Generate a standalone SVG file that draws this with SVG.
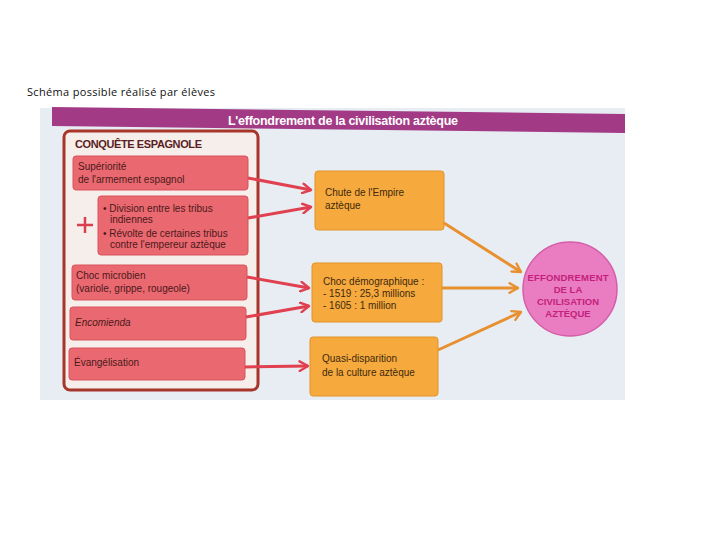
<svg xmlns="http://www.w3.org/2000/svg" width="720" height="540" viewBox="0 0 720 540">
<style>
  .cap{font-family:"Open Sans","Liberation Sans",sans-serif;font-size:11px;fill:#111}
  .t{font-family:"Liberation Sans","DejaVu Sans",sans-serif;font-size:10px;fill:#4a1a1a}
  .to{font-family:"Liberation Sans","DejaVu Sans",sans-serif;font-size:10px;fill:#3e2a10}
  .red{fill:#ea6870;stroke:#d9525c;stroke-width:1}
  .org{fill:#f6a93c;stroke:#e39328;stroke-width:1}
  .ra{stroke:#e0404f;stroke-width:3;fill:none;marker-end:url(#rh)}
  .oa{stroke:#e8902f;stroke-width:3;fill:none;marker-end:url(#oh)}
  .ct{font-family:"Liberation Sans","DejaVu Sans",sans-serif;font-size:9.5px;font-weight:bold;fill:#c41f7c;text-anchor:middle}
</style>
<defs>
  <marker id="rh" viewBox="0 0 10 10" refX="8" refY="5" markerWidth="4" markerHeight="4" orient="auto" markerUnits="strokeWidth">
    <path d="M1,1 L8,5 L1,9" fill="none" stroke="#e0404f" stroke-width="2" stroke-linecap="round" stroke-linejoin="round"/>
  </marker>
  <marker id="oh" viewBox="0 0 10 10" refX="8" refY="5" markerWidth="4" markerHeight="4" orient="auto" markerUnits="strokeWidth">
    <path d="M1,1 L8,5 L1,9" fill="none" stroke="#e8902f" stroke-width="2" stroke-linecap="round" stroke-linejoin="round"/>
  </marker>
</defs>
<rect width="720" height="540" fill="#ffffff"/>
<text class="cap" x="27" y="96" textLength="188">Schéma possible réalisé par élèves</text>

<g id="background">
  <rect x="40" y="108" width="585" height="292" fill="#e7edf2"/>
  <polygon points="52,107 625,114 625,133 52,126" fill="#a33a86"/>
  <text x="228" y="125" textLength="230" font-family="Liberation Sans,DejaVu Sans,sans-serif" font-size="12.5" font-weight="bold" fill="#ffffff">L'effondrement de la civilisation aztèque</text>
</g>

<g id="conquete">
  <rect x="64" y="131" width="194" height="259" rx="6" fill="#f5eeeb" stroke="#a8352a" stroke-width="3"/>
  <text x="75" y="148" textLength="127" font-family="Liberation Sans,DejaVu Sans,sans-serif" font-size="11" font-weight="bold" fill="#5a1e1e">CONQUÊTE ESPAGNOLE</text>
  <path d="M77,225 H93 M85,217 V233" stroke="#d9404c" stroke-width="2.5" fill="none"/>
</g>

<g id="n1">
  <rect class="red" x="73" y="156" width="175" height="34" rx="3"/>
  <text class="t" x="78" y="170">Supériorité</text>
  <text class="t" x="78" y="183">de l'armement espagnol</text>
</g>
<g id="n2">
  <rect class="red" x="98" y="196" width="150" height="59" rx="3"/>
  <text class="t" x="103" y="212">• Division entre les tribus</text>
  <text class="t" x="110" y="223">indiennes</text>
  <text class="t" x="103" y="237">• Révolte de certaines tribus</text>
  <text class="t" x="110" y="248">contre l'empereur aztèque</text>
</g>
<g id="n3">
  <rect class="red" x="72" y="265" width="175" height="35" rx="3"/>
  <text class="t" x="76" y="279">Choc microbien</text>
  <text class="t" x="76" y="292">(variole, grippe, rougeole)</text>
</g>
<g id="n4">
  <rect class="red" x="70" y="307" width="176" height="33" rx="3"/>
  <text class="t" x="75" y="326" font-style="italic">Encomienda</text>
</g>
<g id="n5">
  <rect class="red" x="69" y="348" width="176" height="32" rx="3"/>
  <text class="t" x="74" y="366">Évangélisation</text>
</g>

<g id="nA">
  <rect class="org" x="315" y="171" width="129" height="59" rx="3"/>
  <text class="to" x="325" y="196">Chute de l'Empire</text>
  <text class="to" x="325" y="209">aztèque</text>
</g>
<g id="nB">
  <rect class="org" x="312" y="263" width="130" height="59" rx="3"/>
  <text class="to" x="323" y="285">Choc démographique :</text>
  <text class="to" x="323" y="297">- 1519 : 25,3 millions</text>
  <text class="to" x="323" y="309">- 1605 : 1 million</text>
</g>
<g id="nC">
  <rect class="org" x="310" y="337" width="128" height="59" rx="3"/>
  <text class="to" x="322" y="362">Quasi-disparition</text>
  <text class="to" x="322" y="376">de la culture aztèque</text>
</g>

<g id="nE">
  <circle cx="570" cy="289" r="47" fill="#ea7dc1" stroke="#d55eaa" stroke-width="1.5"/>
  <text class="ct" x="568" y="281" textLength="81">EFFONDREMENT</text>
  <text class="ct" x="568" y="293">DE LA</text>
  <text class="ct" x="568" y="305">CIVILISATION</text>
  <text class="ct" x="568" y="317">AZTÈQUE</text>
</g>

<g id="connectors">
  <line class="ra" x1="248" y1="178" x2="311" y2="190"/>
  <line class="ra" x1="248" y1="218" x2="311" y2="207"/>
  <line class="ra" x1="247" y1="277" x2="309" y2="288"/>
  <line class="ra" x1="246" y1="317" x2="309" y2="306"/>
  <line class="ra" x1="245" y1="367" x2="308" y2="366"/>
  <line class="oa" x1="444" y1="223" x2="521" y2="272"/>
  <line class="oa" x1="442" y1="288" x2="518" y2="288"/>
  <line class="oa" x1="438" y1="350" x2="521" y2="312"/>
</g>
</svg>
